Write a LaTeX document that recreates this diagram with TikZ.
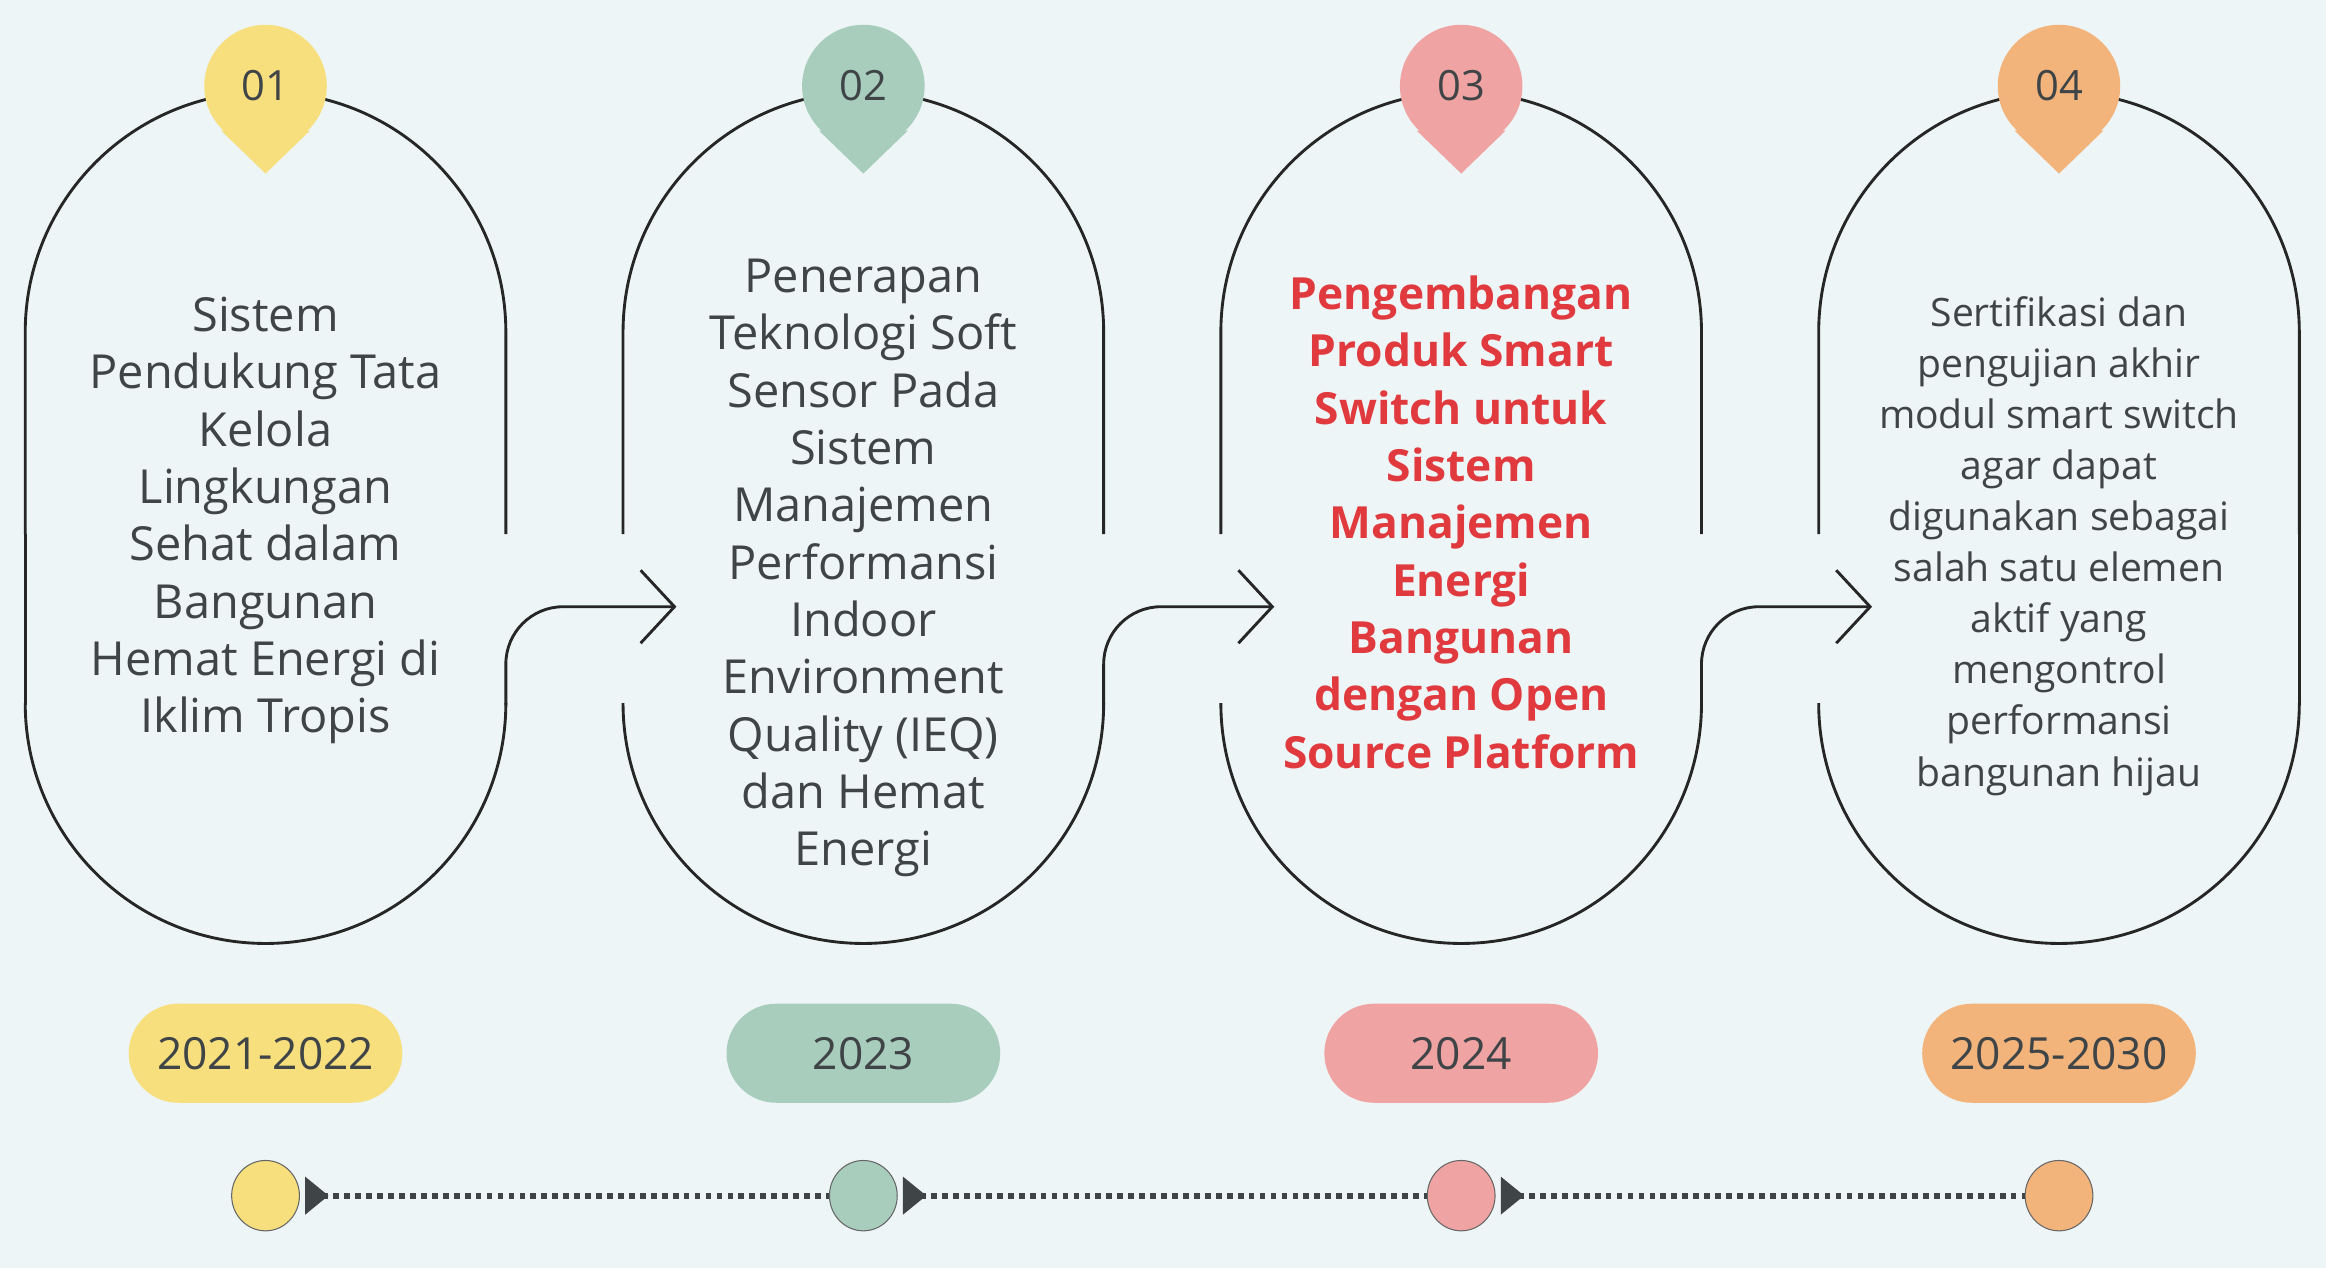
\documentclass[tikz,border=0pt]{standalone}
\usepackage{fontspec}
\setmainfont{Open Sans}
\usetikzlibrary{arrows.meta,shapes.geometric}
\definecolor{bgcol}{HTML}{EDF5F6}
\definecolor{inkcol}{HTML}{3F4447}
\definecolor{yelcol}{HTML}{F7DF7E}
\definecolor{grncol}{HTML}{A8CDBD}
\definecolor{pnkcol}{HTML}{F0A3A3}
\definecolor{orgcol}{HTML}{F3B47C}
\definecolor{redcol}{HTML}{E03A3E}

\begin{document}
\begin{tikzpicture}[
      x=0.02cm,y=0.02cm,
      font=\fontsize{18}{22}\selectfont,
      outline/.style={draw=black!85,line width=1.1pt},
      card/.style={text=inkcol,align=center},
      pin/.style={circle,minimum size=47pt,inner sep=0pt,text=inkcol,font=\fontsize{16}{18}\selectfont},
      year/.style={rounded corners=19pt,minimum width=105pt,minimum height=38pt,text=inkcol,font=\fontsize{17}{20}\selectfont},
      dot/.style={ellipse,draw=black!60,minimum width=26pt,minimum height=27pt,inner sep=0pt},
      to/.style={outline,rounded corners=22pt,-{Straight Barb[length=13pt,width=28pt,line width=1.1pt]}},
      trail/.style={line width=2.2pt,dotted,draw=inkcol,{Triangle[reversed,length=9pt,width=14pt]}-,shorten <=2pt},
      ]
    \fill[bgcol] (0,0) rectangle (1568,-855);
    \useasboundingbox (0,0) rectangle (1568,-855);

    % Capsules and pins
    \foreach \cx/\col/\num [count=\i] in {179/yelcol/01,582/grncol/02,985/pnkcol/03,1388/orgcol/04}{
      \draw[outline] (\cx-162,-360) -- (\cx-162,-224) arc(180:0:162) -- (\cx+162,-360);
      \draw[outline] (\cx-162,-475) -- (\cx-162,-474) arc(180:360:162) -- (\cx+162,-475);
      \fill[\col] (\cx-30,-88) -- (\cx,-117) -- (\cx+30,-88) -- cycle;
      \node[pin,fill=\col] (pin\i) at (\cx,-58) {\num};
      \node[dot,fill=\col] (dot\i) at (\cx,-806) {};
    }
    \draw[outline] (17,-360) -- (17,-475);
    \draw[outline] (1550,-360) -- (1550,-475);

    % Texts
    \node[card] (txt1) at (179,-351) {Sistem\\Pendukung Tata\\Kelola\\Lingkungan\\Sehat dalam\\Bangunan\\Hemat Energi di\\Iklim Tropis};
    \node[card] (txt2) at (582,-383) {Penerapan\\Teknologi Soft\\Sensor Pada\\Sistem\\Manajemen\\Performansi\\Indoor\\Environment\\Quality (IEQ)\\dan Hemat\\Energi};
    \node[card,text=redcol,font=\fontsize{17}{22}\selectfont\bfseries] (txt3) at (985,-352) {Pengembangan\\Produk Smart\\Switch untuk\\Sistem\\Manajemen\\Energi\\Bangunan\\dengan Open\\Source Platform};
    \node[card,font=\fontsize{15}{19.6}\selectfont] (txt4) at (1388,-368) {Sertifikasi dan\\pengujian akhir\\modul smart switch\\agar dapat\\digunakan sebagai\\salah satu elemen\\aktif yang\\mengontrol\\performansi\\bangunan hijau};

    % Years
    \node[year,fill=yelcol] (yr1) at (179,-710) {2021-2022};
    \node[year,fill=grncol] (yr2) at (582,-710) {2023};
    \node[year,fill=pnkcol] (yr3) at (985,-710) {2024};
    \node[year,fill=orgcol] (yr4) at (1388,-710) {2025-2030};

    % Connectors
    \foreach \cx [count=\i] in {179,582,985}{
      \coordinate (foot\i) at (\cx+162,-475);
      \coordinate (head\i) at (\cx+277,-409);
      \draw[to] (foot\i) |- (head\i);
    }
    \draw[trail] (dot1) -- (dot2);
    \draw[trail] (dot2) -- (dot3);
    \draw[trail] (dot3) -- (dot4);
\end{tikzpicture}
\end{document}
